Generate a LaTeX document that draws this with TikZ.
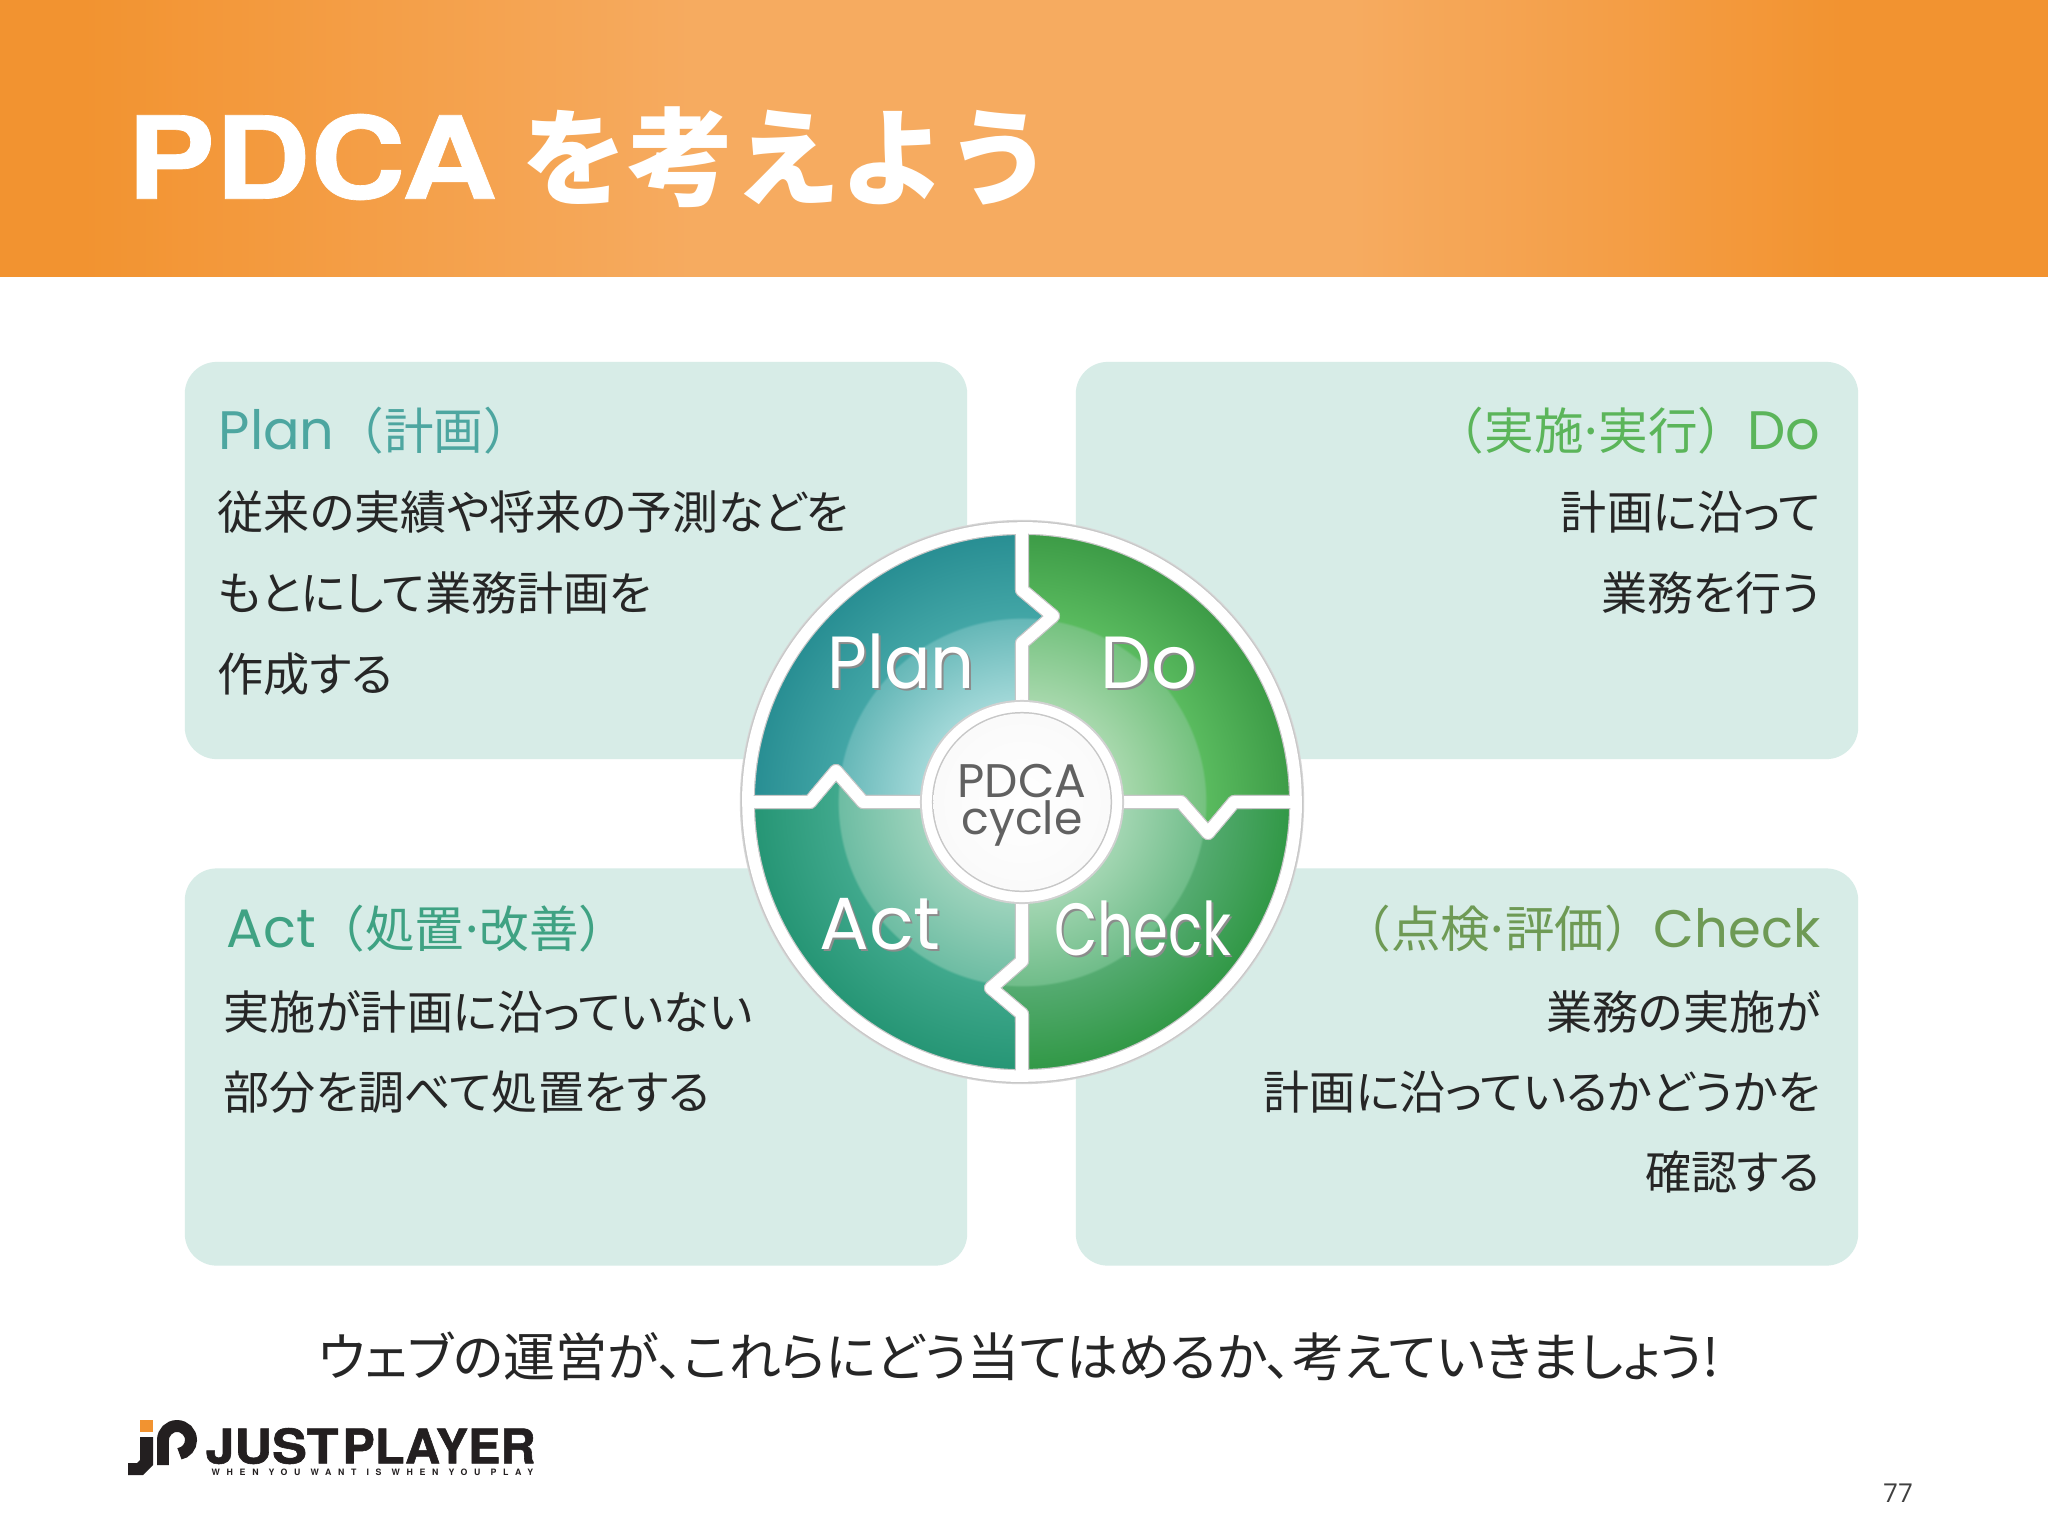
\documentclass[tikz,border=0pt]{standalone}
\usepackage{fontspec}
\setmainfont[RawFeature=+palt]{Noto Sans CJK JP}
\newfontfamily\headfont{Noto Sans CJK JP}
\newfontfamily\latfont{Poppins}
\newfontfamily\titlefont[FakeBold=0.6]{TeX Gyre Heros}
\newfontfamily\logofont[FakeBold=1.2]{TeX Gyre Heros}
\newfontfamily\tagfont[LetterSpace=76,WordSpace=1.1]{TeX Gyre Heros}
\newfontfamily\pagefont{Open Sans}
\newcommand\headdot{\kern-.13em·\kern-.13em}

\definecolor{bandA}{HTML}{F29330}
\definecolor{bandB}{HTML}{F6AB60}
\definecolor{cardbg}{HTML}{D7ECE7}
\definecolor{planhead}{HTML}{4DA6A0}
\definecolor{dohead}{HTML}{5BB55A}
\definecolor{checkhead}{HTML}{6E9A55}
\definecolor{acthead}{HTML}{3FA283}
\definecolor{logoink}{HTML}{231F20}
\definecolor{logoorange}{HTML}{F29330}

\pgfdeclarehorizontalshading{bandsh}{100bp}{color(0bp)=(bandA); color(27bp)=(bandA); color(42bp)=(bandB); color(58bp)=(bandB); color(70bp)=(bandA); color(100bp)=(bandA)}
\pgfdeclareradialshading{plansh}{\pgfpoint{0bp}{0bp}}{rgb(0bp)=(.66,.86,.86); rgb(9bp)=(.64,.85,.85); rgb(16.6bp)=(.40,.72,.72); rgb(16.8bp)=(.26,.65,.65); rgb(25bp)=(.15,.55,.57); rgb(50bp)=(.15,.55,.57)}
\pgfdeclareradialshading{dosh}{\pgfpoint{0bp}{0bp}}{rgb(0bp)=(.68,.86,.70); rgb(9bp)=(.66,.85,.68); rgb(16.6bp)=(.46,.76,.50); rgb(16.8bp)=(.35,.73,.37); rgb(25bp)=(.23,.60,.27); rgb(50bp)=(.23,.60,.27)}
\pgfdeclareradialshading{checksh}{\pgfpoint{0bp}{0bp}}{rgb(0bp)=(.66,.85,.72); rgb(9bp)=(.64,.84,.70); rgb(16.6bp)=(.44,.74,.54); rgb(16.8bp)=(.33,.67,.44); rgb(25bp)=(.18,.59,.26); rgb(50bp)=(.18,.59,.26)}
\pgfdeclareradialshading{actsh}{\pgfpoint{0bp}{0bp}}{rgb(0bp)=(.64,.84,.76); rgb(9bp)=(.62,.83,.74); rgb(16.6bp)=(.43,.74,.64); rgb(16.8bp)=(.25,.66,.55); rgb(25bp)=(.14,.58,.45); rgb(50bp)=(.14,.58,.45)}

\tikzset{
  card/.style={fill=cardbg,rounded corners=0.32cm,minimum width=7.82cm,minimum height=3.97cm,inner sep=0},
  headtext/.style={font=\headfont\fontsize{14.1}{16}\selectfont,inner sep=0},
  bodytext/.style={font=\fontsize{13.1}{15}\selectfont,inner sep=0,text=black!85},
  wheeltext/.style={font=\latfont\fontsize{21}{24}\selectfont,inner sep=0,text=white},
  wheelshade/.style={font=\latfont\fontsize{21}{24}\selectfont,inner sep=0,text=black!45},
  quadpath/.style={insert path={(0,0) -- (0,-159) -- (31,-186) -- (0,-212) -- (0,-274) arc (90:180:2.74cm) -- (-212,0) -- (-186,-31) -- (-159,0) -- cycle}}
}

\begin{document}
\begin{tikzpicture}[x=0.01cm,y=-0.01cm]

\useasboundingbox (0,0) rectangle (2048,1536);
\fill[white] (0,0) rectangle (2048,1536);

% banner
\shade[shading=bandsh] (0,0) rectangle (2048,276);
\node[anchor=center,inner sep=0,text=white,xscale=1.155,font=\titlefont\bfseries\fontsize{32.5}{36}\selectfont] (titlelat) at (312,157) {PDCA};
\node[anchor=west,inner sep=0,text=white,font=\headfont\bfseries\fontsize{30.2}{34}\selectfont] (titlejp) at (521,157) {を考えよう};

% cards
\node[card] (plancard) at (576,560.5) {};
\node[card] (docard) at (1467,560.5) {};
\node[card] (actcard) at (576,1067) {};
\node[card] (checkcard) at (1467,1067) {};

% plan text
\node[headtext,anchor=west,text=planhead] (planhead) at (218,431) {{\latfont\fontsize{15.4}{16}\selectfont Plan}（計画）};
\node[bodytext,anchor=west] (planA) at (217,512) {従来の実績や将来の予測などを};
\node[bodytext,anchor=west] (planB) at (217,593) {もとにして業務計画を};
\node[bodytext,anchor=west] (planC) at (217,674) {作成する};

% do text
\node[headtext,anchor=east,text=dohead] (dohead) at (1821,431) {（実施\headdot 実行）{\latfont\fontsize{15.4}{16}\selectfont Do}};
\node[bodytext,anchor=east] (doA) at (1821,512) {計画に沿って};
\node[bodytext,anchor=east] (doB) at (1821,593) {業務を行う};

% act text
\node[headtext,anchor=west,text=acthead] (acthead) at (226,929) {{\latfont\fontsize{15.4}{16}\selectfont Act}（処置\headdot 改善）};
\node[bodytext,anchor=west] (actA) at (223,1012) {実施が計画に沿っていない};
\node[bodytext,anchor=west] (actB) at (223,1092) {部分を調べて処置をする};

% check text
\node[headtext,anchor=east,text=checkhead] (checkhead) at (1821,929) {（点検\headdot 評価）{\latfont\fontsize{15}{16}\selectfont Check}};
\node[bodytext,anchor=east] (checkA) at (1821,1012) {業務の実施が};
\node[bodytext,anchor=east] (checkB) at (1821,1092) {計画に沿っているかどうかを};
\node[bodytext,anchor=east] (checkC) at (1821,1172) {確認する};

% wheel
\begin{scope}[shift={(1022,802)}]
\fill[black!16] (0,0) circle (2.82cm);
\fill[white] (0,0) circle (2.80cm);
\foreach \a/\sh in {0/plansh,90/dosh,180/checksh,270/actsh}{
  \begin{scope}[rotate=-\a]
    \clip[quadpath];
    \shade[shading=\sh] (0,0) circle (2.75cm);
  \end{scope}
}
\foreach \a in {0,90,180,270}
  \draw[black!22,line width=4pt,line join=round,rotate=-\a,quadpath];
\foreach \a in {0,90,180,270}
  \draw[white,line width=3.3pt,line join=round,rotate=-\a,quadpath];
\fill[black!18] (0,0) circle (1.02cm);
\fill[white] (0,0) circle (1.00cm);
\fill[black!22] (0,0) circle (0.90cm);
\shade[inner color=white,outer color=black!2] (0,0) circle (0.885cm);
\end{scope}

% wheel labels
\foreach \name/\txt/\x/\y/\sc in {plan/Plan/901/688/.93,do/Do/1149/688/.97,act/Act/880/949/1,check/Check/1143/955/.76}{
  \node[wheelshade,anchor=base,xscale=\sc] (\name shade) at (\x+2,\y+2) {\txt};
  \node[wheeltext,anchor=base,xscale=\sc] (\name word) at (\x,\y) {\txt};
}
\node[inner sep=0,text=black!62,font=\latfont\fontsize{13.4}{14}\selectfont] (pdcaword) at (1022,781) {PDCA};
\node[inner sep=0,text=black!62,font=\latfont\fontsize{13}{14}\selectfont] (cycleword) at (1022,823) {cycle};

% bottom line
\node[inner sep=0,font=\fontsize{14.8}{16}\selectfont,text=black!85] (closing) at (1019,1356) {ウェブの運営が、これらにどう当てはめるか、考えていきましょう!};

% logo
\fill[logoorange] (140,1420) rectangle (153,1432);
\fill[logoink] (140,1437) -- (153,1437) -- (153,1465) -- (143,1475) -- (128,1475) -- (128,1463) -- (137,1463) -- (140,1460) -- cycle;
\draw[logoink,line width=3.4pt] (163,1465) -- (163,1440) arc (180:-80:0.14cm);
\node[anchor=center,inner sep=0,text=logoink,xscale=1.09,font=\logofont\bfseries\fontsize{13.6}{16}\selectfont] (justword) at (272,1446) {JUST};
\node[anchor=center,inner sep=0,text=logoink,xscale=1.015,font=\logofont\bfseries\fontsize{13.6}{16}\selectfont] (playerword) at (439,1446) {PLAYER};
\node[anchor=west,inner sep=0,text=logoink,font=\tagfont\bfseries\fontsize{2.5}{3}\selectfont] (tagline) at (211,1472) {WHEN YOU WANT IS WHEN YOU PLAY};

% page number
\node[inner sep=0,text=black!75,font=\pagefont\fontsize{7.4}{9}\selectfont] (pagenum) at (1898,1493) {77};

\end{tikzpicture}
\end{document}
